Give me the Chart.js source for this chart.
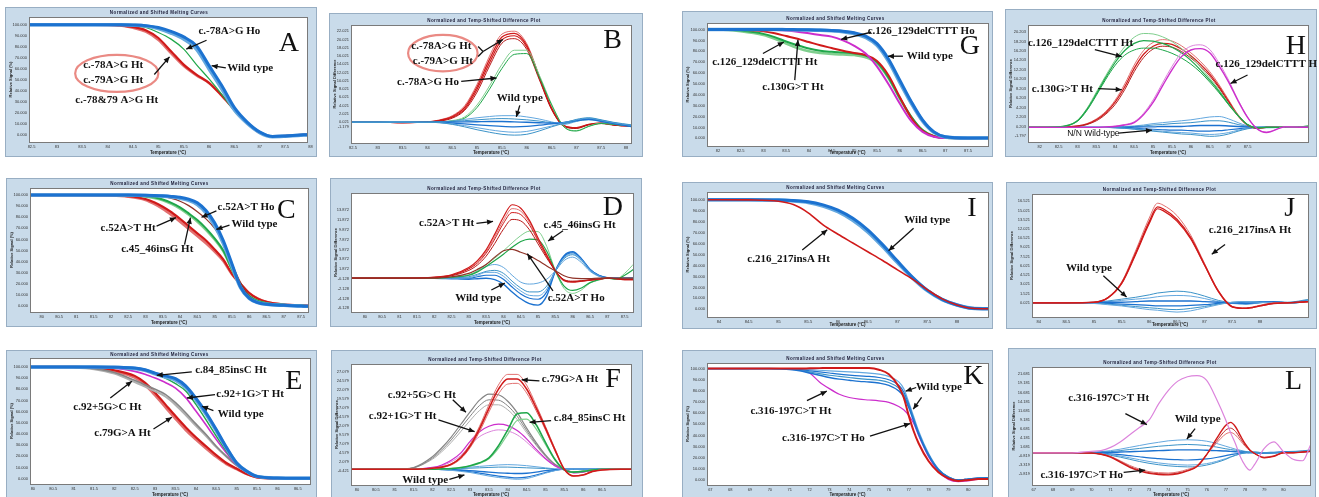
<!DOCTYPE html>
<html>
<head>
<meta charset="utf-8">
<script src="https://cdn.jsdelivr.net/npm/chart.js@4.4.1/dist/chart.umd.min.js"></script>
<style>
  body { margin: 0; background: #fff; width: 1319px; height: 497px; overflow: hidden; position: relative; }
</style>
</head>
<body>
<script>
// ---- axis ticks ----
const meltTicks = [0, 10, 20, 30, 40, 50, 60, 70, 80, 90, 100];
const ticksB = [22.021, 20.021, 18.021, 16.021, 14.021, 12.021, 10.021, 8.021, 6.021, 4.021, 2.021, 0.021, -1.179];
const ticksD = [13.872, 11.872, 9.872, 7.872, 5.872, 3.872, 1.872, -0.128, -2.128, -4.128, -6.128];
const ticksF = [27.079, 24.579, 22.079, 19.579, 17.079, 14.579, 12.079, 9.579, 7.079, 4.579, 2.079, -0.421];
const ticksH = [20.203, 18.203, 16.203, 14.203, 12.203, 10.203, 8.203, 6.203, 4.203, 2.203, 0.203, -1.797];
const ticksJ = [16.521, 15.021, 13.521, 12.021, 10.521, 9.021, 7.521, 6.021, 4.521, 3.021, 1.521, 0.021];
const ticksL = [21.681, 19.181, 16.681, 14.181, 11.681, 9.181, 6.681, 4.181, 1.681, -0.819, -3.319, -5.819];
const xTicksAB = [82.5, 83, 83.5, 84, 84.5, 85, 85.5, 86, 86.5, 87, 87.5, 88];
const xTicksGH = [82, 82.5, 83, 83.5, 84, 84.5, 85, 85.5, 86, 86.5, 87, 87.5];
const xTicksCD = [80, 80.5, 81, 81.5, 82, 82.5, 83, 83.5, 84, 84.5, 85, 85.5, 86, 86.5, 87, 87.5];
const xTicksIJ = [84, 84.5, 85, 85.5, 86, 86.5, 87, 87.5, 88];
const xTicksEF = [80, 80.5, 81, 81.5, 82, 82.5, 83, 83.5, 84, 84.5, 85, 85.5, 86, 86.5];
const xTicksKL = [67, 68, 69, 70, 71, 72, 73, 74, 75, 76, 77, 78, 79, 80];

// ---- A: melting curves ----
const tempA = [82.4, 83, 83.5, 84, 84.25, 84.5, 84.75, 85, 85.25, 85.5, 85.75, 86, 86.25, 86.5, 86.75, 87, 87.25, 87.5, 88.05];
const aWild  = [100,100,100,100,100,99.8,99.2,97.5,94,89,81,63,45,25,12,3,-1,-0.5,1];
const aWild2 = [100,100,100,100,100,99.6,98.8,96.5,92.5,87,78,60,42,23,11,2.5,-1.2,-0.8,0.8];
const aHo    = [100,100,100,100,99.8,99,97.5,93,87,78,64,51,37,22,11,2,-1,-0.3,1];
const aHt    = [100,100,100,99.8,99.3,98,95,88,76,64,55,47.5,36,23.5,11.5,2.5,-1,-0.5,1.2];
const aHt2   = [100,100,100,99.6,99,97,93.5,86,74,62.5,54,47,35.5,23,11,2,-1.1,-0.6,1];

// ---- B: difference plot ----
const tempB = [82.4, 83, 83.5, 84, 84.25, 84.5, 84.75, 85, 85.25, 85.5, 85.75, 86, 86.25, 86.5, 86.75, 87, 87.25, 87.5, 87.75, 88.1];
const bRed1 = [0,0,-0.1,0.1,0.5,1.4,3.6,8.6,15.2,20.6,21.5,18.6,11,3.4,-0.8,-1.3,-0.5,-0.2,-0.6,-0.9];
const bRed2 = [0,0,-0.1,0.1,0.4,1.2,3.2,8,14.4,19.9,20.9,18.2,10.8,3.3,-0.9,-1.4,-0.6,-0.2,-0.6,-0.9];
const bRed3 = [0,0,-0.1,0.1,0.3,1,2.9,7.3,13.6,19.1,20.2,17.6,10.4,3.1,-1,-1.5,-0.6,-0.3,-0.7,-1];
const bRed4 = [0,0,-0.1,0.1,0.6,1.6,4,9.2,16,21.3,22,19,11.3,3.5,-0.8,-1.3,-0.5,-0.2,-0.5,-0.8];
const bGrn1 = [0,0,0,0,0.1,0.4,1.3,4.2,8.8,14,17.4,17.4,11.5,4.4,-1,-2,-0.9,-0.2,-0.5,-0.9];
const bGrn2 = [0,0,0,0,0.1,0.3,1,3.6,8,13,16.4,16.6,11,4.2,-1.1,-2.1,-1,-0.3,-0.5,-0.9];
const bWt1 = [0,0,0,0,0.1,0.3,0.7,1.1,1.4,1.6,1.6,1.3,0.8,0.1,-0.5,0.2,0.8,0.5,-0.2,-0.8];
const bWt2 = [0,0,0,0,0.05,0.2,0.4,0.6,0.8,0.9,0.8,0.6,0.3,-0.1,-0.3,0.3,0.6,0.3,-0.3,-0.9];
const bWt3 = [0,0,0,0,0,0.05,0.1,0.15,0.2,0.2,0.1,0,-0.1,-0.2,-0.1,0.4,0.7,0.2,-0.3,-1];
const bWt4 = [0,0,0,0,-0.05,-0.2,-0.4,-0.6,-0.8,-1,-1.1,-1,-0.7,-0.4,0,0.5,0.9,0.4,-0.2,-0.8];
const bWt5 = [0,0,0,0,-0.1,-0.4,-0.8,-1.3,-1.8,-2.2,-2.4,-2.2,-1.6,-0.9,-0.1,0.6,1,0.5,-0.1,-0.7];
const bWt6 = [0,0,0,0,-0.1,-0.5,-1.1,-1.8,-2.4,-2.9,-3.1,-2.9,-2.1,-1.1,-0.2,0.7,1.1,0.6,0,-0.6];

// ---- G: melting curves ----
const tempG = [81.7, 82, 82.5, 83, 83.25, 83.5, 83.75, 84, 84.25, 84.5, 84.75, 85, 85.25, 85.5, 85.75, 86, 86.25, 86.5, 86.75, 87, 87.5, 88];
const gWild   = [100,100,100,100,100,100,99.9,99.8,99.6,99.2,98.5,97,94,87,73,53.5,34,17,6,1.5,0.4,0.4];
const gWild2  = [100,100,100,100,100,99.9,99.8,99.6,99.3,98.8,98,96.2,92.8,85.5,71,51.5,32.5,16,5.5,1.3,0.4,0.4];
const gHo     = [100,100,100,99.8,99.5,99,98,96.5,95,93.5,90,85,78,66,50,32,16,6,1.5,0.3,0.2,0.3];
const gHt130  = [100,100,99.7,98.3,96.5,94,91.5,88.5,85.5,83,80.5,78.5,76.5,71,58,38,19,7,2,0.5,0.2,0.3];
const gHtDel  = [100,100,99,96,93,89,85.5,82.5,80.5,79.5,78.8,78,76,70,56,37,20,7.6,2,0.5,0.2,0.3];
const gHtDel2 = [100,100,98.5,95,91.5,87,83,80,78.5,77.5,77,76.5,74.5,69,55.5,36.5,19.5,7.4,2,0.5,0.2,0.3];

// ---- H: difference plot ----
const tempH = [81.6, 82, 82.5, 83, 83.25, 83.5, 83.75, 84, 84.25, 84.5, 84.75, 85, 85.25, 85.5, 85.75, 86, 86.25, 86.5, 86.75, 87, 87.25, 87.5, 87.75, 88, 88.5, 89.2];
const hGrn1 = [0,0,0.1,1.5,4,7.5,11,14.3,17.1,19.1,19.9,19.8,19.2,18.2,16.7,15,12.8,10.4,7.9,5,2.6,0.6,-0.1,0,0,0.3];
const hGrn2 = [0,0,0.1,1.4,3.8,7.1,10.6,13.8,16.3,17.8,18.4,18.3,17.8,17,15.8,14.2,12.2,10,7.6,4.9,2.5,0.6,-0.1,0,0,0.3];
const hGrn3 = [0,0,0.1,1.3,3.6,6.8,10.2,13.2,15.3,16.4,16.8,16.8,16.4,15.7,14.7,13.4,11.7,9.6,7.3,4.8,2.5,0.6,-0.1,0,0,0.3];
const hRed1 = [0,0,0,0.3,0.8,1.8,3.4,5.8,9.2,13.2,16.3,18,18.6,18.3,17.3,15.8,14,11.8,9,5.8,2.7,0.6,-0.2,0,0,0.2];
const hRed2 = [0,0,0,0.3,0.7,1.6,3.1,5.4,8.6,12.5,15.5,17.2,17.8,17.6,16.6,15.2,13.4,11.3,8.6,5.5,2.5,0.5,-0.2,0,0,0.2];
const hRed3 = [0,0,0,0.2,0.6,1.4,2.8,4.9,8,11.8,14.8,16.6,17.2,17,16.1,14.7,13,10.9,8.3,5.3,2.4,0.5,-0.2,0,0,0.2];
const hMag1 = [0,0,0,0,0,0,0.1,0.3,0.6,1.2,3,5.8,9.4,12.9,15.8,17.2,17.5,16.5,13.6,10,5.8,2.2,-0.3,-1,0.1,0];
const hMag2 = [0,0,0,0,0,0,0.1,0.2,0.5,1,2.7,5.3,8.8,12.2,15,16.4,16.7,15.8,13,9.6,5.6,2.1,-0.3,-1.1,0.1,0];
const hWt1 = [0,0,0,0,0,0,0,0.1,0.2,0.3,0.5,0.8,1,1.2,1.4,1.6,1.9,2.2,2.3,1.8,1,0.3,0,-0.1,0,0.1];
const hWt2 = [0,0,0,0,0,0,0,0,0.1,0.2,0.3,0.5,0.6,0.8,0.9,1,1.2,1.4,1.4,1.1,0.6,0.2,0,0,0,0.1];
const hWt3 = [0,0,0,0,0,0,0,0,0,0.05,0.1,0.1,0.2,0.2,0.2,0.3,0.4,0.4,0.4,0.3,0.2,0.1,0,0,0,0];
const hWt4 = [0,0,0,0,0,0,0,0,-0.1,-0.2,-0.3,-0.4,-0.5,-0.6,-0.6,-0.7,-0.8,-0.8,-0.7,-0.5,-0.3,-0.1,0,0,0,0];
const hWt5 = [0,0,0,0,0,0,0,-0.1,-0.2,-0.3,-0.5,-0.7,-0.8,-1,-1.1,-1.2,-1.4,-1.5,-1.4,-1.1,-0.6,-0.2,0,0,0,0];
const hWt6 = [0,0,0,0,0,0,0,-0.1,-0.2,-0.4,-0.6,-0.8,-1,-1.2,-1.4,-1.5,-1.7,-1.9,-1.8,-1.4,-0.8,-0.3,0,0.1,0,0];

// ---- C: melting curves ----
const tempC = [79.6, 80, 81, 82, 82.5, 83, 83.25, 83.5, 83.75, 84, 84.25, 84.5, 84.75, 85, 85.25, 85.5, 85.75, 86, 86.25, 86.5, 87, 87.5, 87.8];
const cWild  = [100,100,100,100,100,99.8,99.6,99.3,98.8,98,96.3,93,86,75,59,38,17,7,3,1.5,0.5,0,-0.5];
const cWild2 = [100,100,100,100,100,99.7,99.4,99,98.3,97.2,95.2,91.5,84,72.5,56.5,36,16.5,6.8,3,1.5,0.5,0,-0.5];
const cHo    = [100,100,100,100,100,99.6,99.2,98.5,97,94.5,90.5,85,78.5,70,58,38,21,8.5,3.5,1.5,0.6,0.1,-0.3];
const cIns   = [100,100,100,100,99.8,99,98,96,93,89,83.5,77.5,70,61,50,33,18,9,4.5,2.5,1,0.3,-1];
const cIns2  = [100,100,100,100,99.6,98.5,97.2,95,91.8,87.5,82,75.8,68.3,59.5,48.8,32.5,18,9,4.5,2.5,1,0.3,-1];
const cHt    = [100,100,100,99.8,99,96.5,93.5,89.5,84.5,78.5,72,65.5,59,51,42,29,20,11.5,6.5,3.6,1.2,0.5,0];
const cHt2   = [100,100,100,99.6,98.5,95.5,92,87.5,82,76,69.5,63,56.5,49,40.5,28.5,19.5,11.5,6.5,3.6,1.2,0.5,0];

// ---- D: difference plot ----
const tempD = [79.5, 80, 81, 82, 82.5, 83, 83.25, 83.5, 83.75, 84, 84.25, 84.5, 84.75, 85, 85.25, 85.5, 85.75, 86, 86.25, 86.5, 86.75, 87, 87.25, 87.5, 87.8];
const dRed1 = [0,0,0,0.2,0.7,2.2,3.6,5.8,9,12.5,15,14.3,11.8,8.2,4.8,1.5,-0.5,-0.8,-0.6,-0.4,-0.2,0,-0.1,-0.3,-0.3];
const dRed2 = [0,0,0,0.2,0.6,1.9,3.1,5.1,8,11.2,13.4,13,10.9,7.6,4.4,1.5,-0.4,-0.7,-0.6,-0.4,-0.2,0,-0.1,-0.3,-0.3];
const dRed3 = [0,0,0,0.1,0.5,1.6,2.7,4.5,7.1,10,12,11.7,9.9,7,4.1,1.5,-0.3,-0.6,-0.5,-0.3,-0.1,0,-0.1,-0.2,-0.2];
const dRed4 = [0,0,0,0.2,0.6,2,3.3,5.4,8.5,11.8,14.2,13.7,11.4,7.9,4.6,1.5,-0.4,-0.7,-0.6,-0.4,-0.2,0,-0.1,-0.3,-0.3];
const dGrn1 = [0,0,0,0,0.2,0.7,1.5,2.8,4.1,5.6,7.2,8.7,9.6,9.5,6.5,1.5,-2.1,-3.1,-2.4,-1,-0.4,0,-0.2,1,3.2];
const dGrn2 = [0,0,0,0,0.2,0.6,1.3,2.4,3.6,4.9,6.3,7.5,8,7.8,5.5,1.5,-1.6,-2.5,-2,-0.9,-0.3,0,-0.2,0.6,2];
const dHo   = [0,0,0,0,0.3,1,1.8,2.8,4.3,5.6,5.9,5.3,4.6,3.6,2.5,1.5,0.5,0,-0.1,-0.1,0,0,0,0,0];
const dWt1 = [0,0,0,0,0.2,0.6,1.5,2.4,2.8,2.2,0.6,-0.8,-1.2,-1,-0.2,1.5,3.6,4.3,3.2,1.4,0.4,0,0,0,0];
const dWt2 = [0,0,0,0,0.1,0.3,0.8,1.4,1.6,1,-0.6,-2,-2.8,-2.8,-1.6,1.5,4,4.8,3.6,1.6,0.5,0,0,0,0];
const dWt3 = [0,0,0,0,0,0,0.3,0.6,0.6,-0.2,-1.8,-3.2,-4.1,-4.3,-2.8,1.5,4.4,5.2,3.9,1.8,0.6,0.1,0,0,0];
const dWt4 = [0,0,0,0,-0.1,-0.2,-0.1,0,-0.3,-1.2,-2.8,-4.2,-5.2,-5.5,-3.6,1.5,4.6,5.4,4,1.8,0.6,0.1,0,0,0];
const dWt5 = [0,0,0,0,0,0.1,0.6,1.2,1.2,0.4,-1.2,-2.6,-3.5,-3.6,-2.2,1.5,4.2,5,3.8,1.7,0.5,0,0,0,0];

// ---- I: melting curves ----
const tempI = [83.7, 84, 84.5, 85, 85.25, 85.5, 85.75, 86, 86.25, 86.5, 86.75, 87, 87.25, 87.5, 87.75, 88, 88.25, 88.6];
const iWild  = [100,100,100,99.8,99.2,98.2,95.3,90.5,83,72.5,59,44,29.5,17.5,9,4,1,0.5];
const iWild2 = [100,100,100,99.6,98.8,97.5,94.2,89,81.2,70.6,57.2,42.6,28.6,17,8.8,3.9,1,0.5];
const iHt    = [100,100,99.8,98.5,95.5,88,77,68.5,60.5,52.5,44.5,36,27.5,18,9.5,4,1,0.5];

// ---- J: difference plot ----
const tempJ = [83.8, 84, 84.5, 85, 85.25, 85.5, 85.75, 86, 86.15, 86.25, 86.5, 86.75, 87, 87.25, 87.5, 87.75, 88, 88.25, 88.5, 88.9];
const jRed1 = [0,0,0,0.1,0.8,3.2,8,13.2,15.6,15.3,13.6,10.6,6.2,1.9,-0.6,-0.9,-0.5,-0.1,0,0.2];
const jRed2 = [0,0,0,0.1,0.8,3.1,7.8,12.9,15.3,15,13.3,10.4,6.1,1.8,-0.7,-0.9,-0.5,-0.1,0,0.2];
const jRed3 = [0,0,0,0.1,0.9,3.4,8.4,13.8,16.2,15.9,14.2,11,6.4,2,-0.6,-0.8,-0.4,0,0,0.2];
const jWt1 = [0,0,0,0.1,0.3,0.6,0.9,1.3,1.6,1.7,1.9,1.7,1.1,0.4,0,-0.2,0,0.2,0.1,0.6];
const jWt2 = [0,0,0,0.05,0.2,0.4,0.6,0.8,1,1.1,1.2,1.1,0.7,0.2,-0.1,-0.2,0,0.2,0,0.5];
const jWt3 = [0,0,0,0,0.1,0.1,0.2,0.3,0.3,0.3,0.3,0.3,0.2,0.1,0,-0.1,0.1,0.2,0,0.4];
const jWt4 = [0,0,0,0,-0.1,-0.2,-0.3,-0.4,-0.5,-0.5,-0.5,-0.4,-0.3,-0.1,0,0.1,0.2,0,-0.1,0.3];
const jWt5 = [0,0,0,-0.05,-0.2,-0.4,-0.6,-0.8,-0.9,-1,-1.1,-0.9,-0.6,-0.2,0.1,0.2,0.1,-0.1,-0.1,0.3];
const jWt6 = [0,0,0,-0.1,-0.3,-0.5,-0.8,-1.1,-1.2,-1.3,-1.5,-1.3,-0.8,-0.3,0.1,0.2,0.1,0,-0.1,0.4];

// ---- E: melting curves ----
const tempE = [79.9, 80.5, 81, 81.5, 82, 82.5, 82.75, 83, 83.25, 83.5, 83.75, 84, 84.25, 84.5, 84.75, 85, 85.25, 85.5, 86, 86.5, 86.9];
const eWild  = [100,100,100,100,99.8,99,97.5,94.5,92,89.5,83,72,59,44,28,14,6.6,2,0.5,0.3,0.3];
const eWild2 = [100,100,100,100,99.7,98.7,97,93.8,91,88.2,81.5,70.5,57.5,42.8,27.3,13.8,6.5,2,0.5,0.3,0.3];
const eIns   = [100,100,100,99.8,99.3,98,96.5,94,90,85,78.5,66.5,52.5,38,24.5,12.5,6,2,0.5,0.3,0.3];
const eG1    = [100,100,100,99.6,98.8,96,93.5,90,86,81,72.5,60.5,48,35,23,12,6,2,0.5,0.3,0.3];
const eG5    = [100,100,99.8,98.5,95,88,84,80,75.5,68,59,49,39.5,29,20,12,6,2,0.5,0.3,0.3];
const eG5b   = [100,100,99.6,98,94,86.5,82.3,78.2,73.5,66,57,47.3,38.2,28.2,19.5,11.8,6,2,0.5,0.3,0.3];
const eRed   = [100,100,100,99.4,97,92,86,77,66.5,56,46,37,29,21,14,9,4.2,1.2,0.3,0.3,0.3];
const eRed2  = [100,100,100,99,96,90.5,84,74.5,64,53.5,43.5,35,27,19.5,13,8.5,4,1.2,0.3,0.3,0.3];

// ---- F: difference plot ----
const tempF = [79.8, 80.5, 81, 81.5, 82, 82.25, 82.5, 82.75, 83, 83.25, 83.5, 83.75, 84, 84.25, 84.5, 84.75, 85, 85.25, 85.5, 85.75, 86, 86.25, 86.5, 87, 87.3];
const fRed1  = [0,0,0,0,0.3,0.7,1.5,3.5,7,12,18,23.5,26.5,26.5,23.5,18,12,5.8,0,-1.9,-1.6,-0.6,-0.2,0,0];
const fRed2  = [0,0,0,0,0.3,0.6,1.4,3.2,6.5,11.3,17,22.3,25.2,25.2,22.4,17.2,11.5,5.5,0,-1.9,-1.6,-0.6,-0.2,0,0];
const fRed3  = [0,0,0,0,0.2,0.5,1.2,2.9,6,10.5,16,21,23.8,24,21.3,16.4,11,5.2,0,-1.8,-1.5,-0.6,-0.2,0,0];
const fGray1 = [0,0,0,0.5,3.5,6,9,12.5,16,19.3,21,20.8,19,15.8,11.5,7.5,4,1.4,0,-0.8,-0.6,-0.2,0,0,0];
const fGray2 = [0,0,0,0.4,3.1,5.4,8.2,11.5,14.8,17.8,19.4,19.3,17.7,14.8,10.8,7,3.8,1.3,0,-0.8,-0.6,-0.2,0,0,0];
const fGray3 = [0,0,0,0.4,2.8,4.9,7.5,10.5,13.6,16.4,18,18,16.6,13.9,10.2,6.7,3.6,1.2,0,-0.7,-0.5,-0.2,0,0,0];
const fMag1  = [0,0,0,0,0.5,1.2,2.5,4.5,7.8,10.5,12,12.6,12.2,10.8,8.5,5.6,3,1,-0.2,-1,-0.8,-0.3,0,0,0];
const fMag2  = [0,0,0,0,0.4,1,2.1,3.8,6.7,9.1,10.4,11,10.7,9.6,7.6,5.1,2.8,0.9,-0.2,-1,-0.8,-0.3,0,0,0];
const fGrn1  = [0,0,0,0,0,0.1,0.2,0.5,1,1.8,3.2,6.5,11,15.5,15.8,12.5,7.5,2.8,-0.2,-0.8,-0.6,-0.2,0,0,0];
const fGrn2  = [0,0,0,0,0,0.1,0.2,0.4,0.9,1.6,2.9,5.8,9.8,13.6,14,11.3,6.9,2.6,-0.2,-0.8,-0.6,-0.2,0,0,0];
const fWt1 = [0,0,0,0,0,0.1,0.2,0.4,0.6,0.8,1,1.2,1.3,1.2,1,0.7,0.4,0.1,0,0,0,0,0,0,0];
const fWt2 = [0,0,0,0,0,0,0.1,0.2,0.3,0.4,0.5,0.6,0.6,0.5,0.4,0.3,0.2,0,0,0,0,0,0,0,0];
const fWt3 = [0,0,0,0,0,0,-0.1,-0.2,-0.4,-0.6,-0.8,-1,-1.1,-1.2,-1.1,-0.8,-0.4,-0.1,0,0,0,0,0,0,0];
const fWt4 = [0,0,0,0,0,-0.1,-0.2,-0.4,-0.7,-1.1,-1.5,-1.9,-2.2,-2.4,-2.2,-1.6,-0.9,-0.3,0,0,0,0,0,0,0];
const fWt5 = [0,0,0,0,0,-0.1,-0.3,-0.6,-0.9,-1.4,-1.9,-2.3,-2.6,-2.8,-2.6,-1.9,-1.1,-0.4,0,0,0,0,0,0,0];

// ---- K: melting curves ----
const tempK = [66.7, 67, 68, 69, 70, 71, 71.5, 72, 72.5, 73, 73.5, 74, 74.5, 75, 75.5, 76, 76.5, 76.75, 77, 77.25, 77.5, 78, 78.5, 79, 79.5, 80, 80.5, 81.1];
const kHt  = [100,100,100,100,100,99.8,99.5,96,88,82,77,74,72.5,71.8,71,69.7,66,63,58,51,40,21,8,0.5,-1.5,-0.8,0.5,0.5];
const kHo  = [100,100,100,100,100,100,100,100.2,100.4,100.6,100.6,100.6,100.6,100.5,99,95,84,74,58,44,33,17,7,1.5,-0.8,0,0.8,1];
const kWt1 = [100,100,100,100,100,99.8,99.5,99,98.5,98,97.5,97,96.5,96,95,93,88,82,70,57,44,24,10,2.8,0,0.8,1.8,2];
const kWt2 = [100,100,100,100,100,99.6,99,98,97,96,95,94.2,93.5,93,92,90,85,79,68,55,42.5,23,9.5,2.6,0,0.8,1.8,2];
const kWt3 = [100,100,100,100,100,99.4,98.5,97,95.5,94,93,92,91,90.3,89.5,87.5,82.5,77,66.5,54,41.5,22.5,9.2,2.5,0,0.8,1.8,2];
const kWt4 = [100,100,100,100,100,99.2,98,96,94,92,90.5,89.5,88.5,88,87,85,80,75,65,53,41,22,9,2.4,0,0.8,1.7,1.9];

// ---- L: difference plot ----
const tempL = [66.8, 67, 68, 69, 70, 70.5, 71, 71.5, 72, 72.5, 73, 73.5, 74, 74.5, 75, 75.5, 76, 76.5, 77, 77.25, 77.5, 77.75, 78, 78.25, 78.5, 79, 79.5, 80, 80.5, 81, 81.4];
const lHt  = [0,0,0,0,0.4,0.6,1.5,3,5,7,9,13.5,17.2,19.8,21,21.3,20,15,9,5.5,2.5,-1,-3.5,-4.8,-3.2,1.2,3,0.3,-1.8,-2.2,2.1];
const lHo1 = [0,0,0,0,-0.1,-0.4,-1.2,-2.6,-4,-5,-5.7,-6,-6.1,-5.8,-5,-3.8,-0.5,3.8,7.6,8.4,7.2,4.8,2.5,0.8,-0.2,-1.4,-1,0,0,0.2,0.4];
const lHo2 = [0,0,0,0,-0.1,-0.4,-1.1,-2.4,-3.8,-4.8,-5.5,-5.8,-5.9,-5.6,-4.9,-3.7,-0.5,3.1,6.3,6.8,5.9,4,2.1,0.7,-0.2,-1.3,-0.9,0,0,0.2,0.4];
const lHo3 = [0,0,0,0,-0.1,-0.3,-1,-2.2,-3.5,-4.5,-5.2,-5.5,-5.6,-5.3,-4.6,-3.5,-0.5,2.6,5.2,5.6,4.9,3.4,1.8,0.6,-0.2,-1.2,-0.8,0,0,0.2,0.3];
const lWt1 = [0,0,0,0,0.1,0.3,0.6,1,1.5,2,2.5,2.9,3.3,3.5,3.6,3.5,3.2,2.6,1.8,1.4,1,0.7,0.4,0.2,0,-0.2,0,0.3,0.4,0.5,0.6];
const lWt2 = [0,0,0,0,0.1,0.2,0.3,0.6,0.9,1.2,1.5,1.8,2,2.2,2.3,2.2,2,1.6,1.1,0.9,0.7,0.5,0.3,0.1,0,-0.1,0,0.2,0.3,0.4,0.5];
const lWt3 = [0,0,0,0,0,0.1,0.1,0.2,0.3,0.4,0.5,0.6,0.7,0.8,0.8,0.8,0.7,0.6,0.5,0.4,0.3,0.2,0.1,0,0,0,0.1,0.2,0.2,0.3,0.4];
const lWt4 = [0,0,0,0,0,-0.1,-0.3,-0.5,-0.8,-1.1,-1.4,-1.6,-1.8,-1.9,-2,-1.9,-1.7,-1.3,-0.8,-0.5,-0.3,-0.1,0,0.1,0.1,0,0,0.1,0.2,0.3,0.5];
const lWt5 = [0,0,0,0,-0.1,-0.2,-0.5,-0.9,-1.4,-1.9,-2.4,-2.8,-3.1,-3.3,-3.4,-3.3,-3,-2.4,-1.6,-1.1,-0.7,-0.3,0,0.2,0.2,0,0,0.1,0.2,0.4,0.6];
const lWt6 = [0,0,0,0,-0.1,-0.3,-0.7,-1.2,-1.8,-2.4,-2.9,-3.3,-3.6,-3.8,-3.9,-3.8,-3.4,-2.7,-1.8,-1.2,-0.7,-0.3,0,0.2,0.2,0,0,0.1,0.3,0.5,0.8];

// ---- styles ----
const BLUE = '#1c72d0', BLUE2 = '#64a8df', TEAL = '#3b93c8';
const RED = '#d01a1a', RED2 = '#e27070', BROWN = '#8f3328';
const GREEN = '#1fa74a', GREEN2 = '#80cf8e';
const MAG = '#cc2ecc', MAG2 = '#dc84dc';
const GRAY = '#858585', GRAY2 = '#b0b0b0';
const MELT = 'Normalized and Shifted Melting Curves';
const DIFF = 'Normalized and Temp-Shifted Difference Plot';
const MELT_Y = 'Relative Signal (%)';
const DIFF_Y = 'Relative Signal Difference';

const ln = (values, color, width) => ({ values, color, width });
const tx = (x, y, text, font) => ({ kind: 'text', x, y, text, font });
const ar = (x1, y1, x2, y2) => ({ kind: 'arrow', x1, y1, x2, y2 });
const sg = (x1, y1, x2, y2) => ({ kind: 'seg', x1, y1, x2, y2 });
const el = (x, y, rx, ry) => ({ kind: 'ellipse', x, y, rx, ry });
const big = (x, y, text) => ({ kind: 'big', x, y, text });

const panels = [
  { frame: [5, 7, 312, 150], plot: [24, 10, 302, 135], title: MELT, yTitle: MELT_Y,
    temps: tempA, xMin: 82.45, xMax: 87.93, yMin: -6, yMax: 107, xTicks: xTicksAB, yTicks: meltTicks,
    series: [ln(aHt2, RED2, 2), ln(aHt, RED, 2.2), ln(aHo, GREEN, 1.2), ln(aWild2, BLUE2, 3.5), ln(aWild, BLUE, 3)],
    notes: [el(84.18, 56, 0.82, 16.7), tx(84.11, 63.6, 'c.-78A>G Ht'), tx(84.11, 50, 'c.-79A>G Ht'),
      ar(84.92, 55, 85.22, 71), tx(84.18, 32, 'c.-78&79 A>G Ht'),
      tx(86.4, 94, 'c.-78A>G Ho'), ar(85.95, 86, 85.55, 78),
      tx(86.81, 60.6, 'Wild type'), ar(86.33, 61, 86.05, 63), big(87.57, 83, 'A')] },
  { frame: [329, 13, 314, 144], plot: [22, 12, 302, 130], title: DIFF, yTitle: DIFF_Y,
    temps: tempB, xMin: 82.46, xMax: 88.1, yMin: -5, yMax: 23.5, xTicks: xTicksAB, yTicks: ticksB,
    series: [ln(bRed4, RED2, 1), ln(bRed1, RED, 1.2), ln(bRed2, RED, 1.2), ln(bRed3, '#b81818', 1),
      ln(bGrn1, GREEN2, 1), ln(bGrn2, GREEN, 1),
      ln(bWt1, BLUE2, 1), ln(bWt2, TEAL, 1), ln(bWt3, BLUE, 1.4), ln(bWt4, BLUE, 1.2), ln(bWt5, BLUE2, 1), ln(bWt6, TEAL, 1)],
    notes: [el(84.31, 16.7, 0.7, 4.4), tx(84.28, 18.5, 'c.-78A>G Ht'), tx(84.31, 14.7, 'c.-79A>G Ht'),
      sg(85.02, 18.3, 85.12, 17.1), sg(85.02, 15.9, 85.12, 17.1), ar(85.12, 17.1, 85.52, 20),
      tx(84.01, 9.7, 'c.-78A>G Ho'), ar(84.68, 9.9, 85.39, 10.7),
      tx(85.86, 5.8, 'Wild type'), ar(85.86, 4.1, 85.79, 1.3), big(87.73, 19.8, 'B')] },
  { frame: [682, 11, 311, 146], plot: [25, 12, 306, 135], title: MELT, yTitle: MELT_Y,
    temps: tempG, xMin: 81.76, xMax: 87.94, yMin: -7, yMax: 106, xTicks: xTicksGH, yTicks: meltTicks,
    series: [ln(gHtDel2, GREEN2, 2.5), ln(gHtDel, GREEN, 2), ln(gHt130, RED, 2), ln(gHo, MAG, 2),
      ln(gWild2, BLUE2, 3.5), ln(gWild, BLUE, 3)],
    notes: [tx(86.47, 98.5, 'c.126_129delCTTT Ho'), ar(85.37, 97.5, 84.71, 91),
      tx(83.03, 69.7, 'c.126_129delCTTT Ht'), ar(82.99, 78, 83.45, 88.5),
      tx(83.65, 46.8, 'c.130G>T Ht'), ar(83.69, 53.5, 83.76, 90.5),
      tx(86.66, 75.5, 'Wild type'), ar(86.07, 75.5, 85.74, 75.5), big(87.54, 84, 'G')] },
  { frame: [1005, 9, 312, 148], plot: [23, 16, 303, 133], title: DIFF, yTitle: DIFF_Y,
    temps: tempH, xMin: 81.69, xMax: 89.1, yMin: -3.1, yMax: 21.7, xTicks: xTicksGH, yTicks: ticksH,
    series: [ln(hWt1, BLUE2, 1), ln(hWt2, TEAL, 1), ln(hWt3, BLUE, 1.4), ln(hWt4, BLUE, 1.2), ln(hWt5, BLUE2, 1), ln(hWt6, TEAL, 1),
      ln(hRed1, RED2, 1), ln(hRed2, RED, 1.2), ln(hRed3, '#b82020', 1),
      ln(hGrn1, GREEN2, 1), ln(hGrn2, GREEN, 1.2), ln(hGrn3, GREEN, 1),
      ln(hMag1, MAG2, 1), ln(hMag2, MAG, 1.4)],
    notes: [tx(83.08, 17.9, 'c.126_129delCTTT Ht'), ar(83.46, 16.5, 84.17, 15),
      tx(82.6, 8.2, 'c.130G>T Ht'), ar(83.55, 8.2, 84.17, 8),
      tx(88.07, 13.5, 'c.126_129delCTTT Ho'), ar(87.5, 11.1, 87.05, 9.3),
      tx(83.42, -1.35, 'N/N Wild-type', '8.5px "Liberation Sans", Arial, sans-serif'), ar(84.08, -1.2, 84.97, -0.6),
      big(88.78, 17.1, 'H')] },
  { frame: [6, 178, 311, 149], plot: [24, 10, 302, 134], title: MELT, yTitle: MELT_Y,
    temps: tempC, xMin: 79.66, xMax: 87.7, yMin: -5.5, yMax: 106.4, xTicks: xTicksCD, yTicks: meltTicks,
    series: [ln(cHt2, RED2, 2.5), ln(cHt, RED, 2.2), ln(cIns2, GREEN2, 2), ln(cIns, GREEN, 2), ln(cHo, BROWN, 1.2),
      ln(cWild2, BLUE2, 3.5), ln(cWild, BLUE, 3)],
    notes: [tx(85.91, 88.8, 'c.52A>T Ho'), ar(85.05, 85.7, 84.62, 80),
      tx(86.15, 74.2, 'Wild type'), ar(85.43, 73, 85.05, 69),
      tx(82.5, 70, 'c.52A>T Ht'), ar(83.32, 72, 83.88, 79.6),
      tx(83.34, 50.8, 'c.45_46insG Ht'), ar(84.13, 55.3, 84.3, 79.6), big(87.07, 85.7, 'C')] },
  { frame: [330, 178, 312, 149], plot: [21, 15, 303, 134], title: DIFF, yTitle: DIFF_Y,
    temps: tempD, xMin: 79.6, xMax: 87.74, yMin: -6.9, yMax: 17.4, xTicks: xTicksCD, yTicks: ticksD,
    series: [ln(dWt1, BLUE2, 1), ln(dWt2, TEAL, 1), ln(dWt3, BLUE, 1.2), ln(dWt4, BLUE, 1.4), ln(dWt5, BLUE2, 1),
      ln(dGrn1, GREEN2, 1), ln(dGrn2, GREEN, 1.2),
      ln(dRed4, RED2, 1), ln(dRed1, RED, 1.2), ln(dRed2, RED, 1), ln(dRed3, '#b81818', 1),
      ln(dHo, BROWN, 1.2)],
    notes: [tx(82.36, 11.2, 'c.52A>T Ht'), ar(83.22, 11.2, 83.7, 11.6),
      tx(86.2, 10.9, 'c.45_46insG Ht'), ar(85.72, 9.7, 85.29, 7.6),
      tx(83.27, -4.1, 'Wild type'), ar(83.65, -2.4, 84.04, -1),
      tx(86.1, -4.1, 'c.52A>T Ho'), ar(85.43, -2.6, 84.69, 5), big(87.16, 14.5, 'D')] },
  { frame: [682, 182, 311, 147], plot: [25, 10, 306, 135], title: MELT, yTitle: MELT_Y,
    temps: tempI, xMin: 83.8, xMax: 88.52, yMin: -7, yMax: 107, xTicks: xTicksIJ, yTicks: meltTicks,
    series: [ln(iWild2, BLUE2, 3.5), ln(iWild, BLUE, 3), ln(iHt, RED, 1.6)],
    notes: [tx(87.5, 81.7, 'Wild type'), ar(87.27, 74, 86.85, 53.5),
      tx(85.17, 45.9, 'c.216_217insA Ht'), ar(85.4, 54, 85.82, 72.5), big(88.25, 92, 'I')] },
  { frame: [1006, 182, 311, 147], plot: [26, 12, 302, 135], title: DIFF, yTitle: DIFF_Y,
    temps: tempJ, xMin: 83.88, xMax: 88.87, yMin: -2.3, yMax: 17.7, xTicks: xTicksIJ, yTicks: ticksJ,
    series: [ln(jWt1, TEAL, 1), ln(jWt2, BLUE2, 1), ln(jWt3, BLUE, 1.4), ln(jWt4, BLUE, 1.2), ln(jWt5, TEAL, 1), ln(jWt6, BLUE2, 1),
      ln(jRed3, RED2, 1), ln(jRed1, RED, 1.4), ln(jRed2, RED, 1.2)],
    notes: [tx(87.82, 11.9, 'c.216_217insA Ht'), ar(87.37, 9.5, 87.13, 7.9),
      tx(84.91, 5.7, 'Wild type'), ar(85.17, 4.4, 85.59, 0.95), big(88.54, 15.4, 'J')] },
  { frame: [6, 350, 311, 149], plot: [24, 8, 304, 134], title: MELT, yTitle: MELT_Y,
    temps: tempE, xMin: 79.93, xMax: 86.8, yMin: -4.8, yMax: 108, xTicks: xTicksEF, yTicks: meltTicks,
    series: [ln(eRed2, RED2, 2.5), ln(eRed, RED, 2.2), ln(eG5b, GRAY2, 2), ln(eG5, GRAY, 1.6), ln(eG1, MAG, 1.6),
      ln(eIns, GREEN, 1.4), ln(eWild2, BLUE2, 3.5), ln(eWild, BLUE, 3)],
    notes: [tx(84.86, 96.7, 'c.84_85insC Ht'), ar(83.9, 95.5, 83.04, 92.5),
      tx(85.33, 75.8, 'c.92+1G>T Ht'), ar(84.47, 75.2, 83.78, 72.2),
      tx(85.1, 57.3, 'Wild type'), ar(84.43, 60.9, 84.15, 64.8),
      tx(81.83, 63.9, 'c.92+5G>C Ht'), ar(81.9, 72.2, 82.43, 87.2),
      tx(82.2, 40.3, 'c.79G>A Ht'), ar(82.96, 44.5, 83.41, 55), big(86.4, 87.2, 'E')] },
  { frame: [331, 350, 312, 149], plot: [20, 14, 300, 135], title: DIFF, yTitle: DIFF_Y,
    temps: tempF, xMin: 79.84, xMax: 87.27, yMin: -4.4, yMax: 29.4, xTicks: xTicksEF, yTicks: ticksF,
    series: [ln(fWt1, BLUE2, 1), ln(fWt2, TEAL, 1), ln(fWt3, BLUE, 1.4), ln(fWt4, BLUE, 1.2), ln(fWt5, BLUE2, 1),
      ln(fGray3, GRAY2, 1), ln(fGray1, GRAY, 1.2), ln(fGray2, GRAY, 1),
      ln(fMag2, MAG2, 1), ln(fMag1, MAG, 1.2),
      ln(fGrn2, GREEN2, 1.2), ln(fGrn1, GREEN, 1.6),
      ln(fRed3, RED2, 1), ln(fRed1, RED2, 1), ln(fRed2, RED, 1.6)],
    notes: [tx(81.72, 20.8, 'c.92+5G>C Ht'), ar(82.54, 19.4, 82.89, 15.9),
      tx(85.65, 25.3, 'c.79G>A Ht'), ar(84.84, 24.7, 84.37, 25),
      tx(81.21, 14.7, 'c.92+1G>T Ht'), ar(82.16, 13.8, 83.12, 10.5),
      tx(86.17, 14.3, 'c.84_85insC Ht'), ar(85.15, 13.6, 84.58, 13.1),
      tx(81.81, -3, 'Wild type'), ar(82.45, -2.8, 82.85, -1.6), big(86.79, 25, 'F')] },
  { frame: [682, 350, 311, 149], plot: [25, 13, 306, 135], title: MELT, yTitle: MELT_Y,
    temps: tempK, xMin: 66.83, xMax: 81, yMin: -4.5, yMax: 105, xTicks: xTicksKL, yTicks: meltTicks,
    series: [ln(kHt, MAG, 1.2), ln(kWt1, BLUE2, 1.2), ln(kWt2, BLUE, 1.2), ln(kWt3, TEAL, 1.2), ln(kWt4, BLUE, 1.4),
      ln(kHo, RED, 2)],
    notes: [tx(78.53, 83.3, 'Wild type'), ar(77.38, 83, 76.85, 79.7), ar(77.65, 74.2, 77.23, 63.6),
      tx(71.06, 61.5, 'c.316-197C>T Ht'), ar(71.87, 71.2, 72.87, 79.7),
      tx(72.7, 37.3, 'c.316-197C>T Ho'), ar(75.05, 39.4, 77.07, 50.6), big(80.26, 92.4, 'K')] },
  { frame: [1008, 348, 308, 151], plot: [24, 19, 302, 137], title: DIFF, yTitle: DIFF_Y,
    temps: tempL, xMin: 66.91, xMax: 81.38, yMin: -8.9, yMax: 23.7, xTicks: xTicksKL, yTicks: ticksL,
    series: [ln(lWt1, BLUE2, 1), ln(lWt2, TEAL, 1), ln(lWt3, BLUE, 1.4), ln(lWt4, BLUE, 1.2), ln(lWt5, BLUE2, 1), ln(lWt6, TEAL, 1),
      ln(lHo3, RED2, 1), ln(lHo2, '#c03030', 1), ln(lHo1, RED, 1.4),
      ln(lHt, MAG2, 1.2)],
    notes: [tx(70.9, 15, 'c.316-197C>T Ht'), ar(71.77, 10.8, 72.89, 7.8),
      tx(75.53, 9.3, 'Wild type'), ar(75.4, 6.7, 74.97, 3.8),
      tx(69.5, -6.1, 'c.316-197C>T Ho'), ar(71.68, -5.4, 72.8, -4.8), big(80.52, 19.6, 'L')] }
];

function drawNotes(chart, notes) {
  const { ctx, scales: { x, y } } = chart;
  const X = v => x.getPixelForValue(v), Y = v => y.getPixelForValue(v);
  ctx.save();
  ctx.fillStyle = '#111';
  ctx.strokeStyle = '#111';
  ctx.textAlign = 'center';
  ctx.textBaseline = 'middle';
  for (const n of notes) {
    if (n.kind === 'ellipse') {
      ctx.save();
      ctx.strokeStyle = '#ea8a84';
      ctx.lineWidth = 2.2;
      ctx.beginPath();
      ctx.ellipse(X(n.x), Y(n.y), Math.abs(X(n.x + n.rx) - X(n.x)), Math.abs(Y(n.y + n.ry) - Y(n.y)), 0, 0, Math.PI * 2);
      ctx.stroke();
      ctx.restore();
    } else if (n.kind === 'text') {
      ctx.font = n.font || 'bold 11px "Liberation Serif", "Times New Roman", serif';
      ctx.fillText(n.text, X(n.x), Y(n.y));
    } else if (n.kind === 'big') {
      ctx.font = '28px "Liberation Serif", "Times New Roman", serif';
      ctx.fillText(n.text, X(n.x), Y(n.y));
    } else {
      const x1 = X(n.x1), y1 = Y(n.y1), x2 = X(n.x2), y2 = Y(n.y2);
      ctx.lineWidth = 1.3;
      ctx.beginPath();
      ctx.moveTo(x1, y1);
      ctx.lineTo(x2, y2);
      ctx.stroke();
      if (n.kind === 'arrow') {
        const a = Math.atan2(y2 - y1, x2 - x1), L = 6, W = 2.7;
        ctx.beginPath();
        ctx.moveTo(x2, y2);
        ctx.lineTo(x2 - L * Math.cos(a) + W * Math.sin(a), y2 - L * Math.sin(a) - W * Math.cos(a));
        ctx.lineTo(x2 - L * Math.cos(a) - W * Math.sin(a), y2 - L * Math.sin(a) + W * Math.cos(a));
        ctx.closePath();
        ctx.fill();
      }
    }
  }
  ctx.restore();
}

function framePlugin(p) {
  return {
    id: 'frame',
    beforeDraw(chart) {
      const { ctx, chartArea: a, width, height } = chart;
      ctx.save();
      ctx.fillStyle = '#c9dbea';
      ctx.fillRect(0, 0, width, height);
      ctx.strokeStyle = '#98aec3';
      ctx.lineWidth = 1;
      ctx.strokeRect(0.5, 0.5, width - 1, height - 1);
      ctx.fillStyle = '#fff';
      ctx.fillRect(a.left, a.top, a.right - a.left, a.bottom - a.top);
      ctx.fillStyle = '#1d1d38';
      ctx.font = 'bold 4.5px Arial, "Liberation Sans", sans-serif';
      ctx.letterSpacing = '0.4px';
      ctx.textAlign = 'center';
      ctx.textBaseline = 'middle';
      ctx.fillText(p.title, width / 2 - 2, Math.max(4.5, a.top - 4.5));
      ctx.restore();
    },
    afterDatasetsDraw(chart) {
      const { ctx, chartArea: a } = chart;
      ctx.save();
      ctx.strokeStyle = '#7a7a7a';
      ctx.lineWidth = 1;
      ctx.strokeRect(Math.round(a.left) + 0.5, Math.round(a.top) + 0.5, Math.round(a.right - a.left), Math.round(a.bottom - a.top));
      ctx.restore();
      drawNotes(chart, p.notes);
    }
  };
}

Chart.defaults.font.family = 'Arial, "Liberation Sans", sans-serif';

function build(p) {
  const [fx, fy, fw, fh] = p.frame;
  const [pl, pt, pr, pb] = p.plot;
  const cv = document.createElement('canvas');
  cv.width = fw;
  cv.height = fh;
  cv.style.cssText = `position:absolute;left:${fx}px;top:${fy}px;width:${fw}px;height:${fh}px`;
  document.body.appendChild(cv);
  const n = p.series.length;
  new Chart(cv, {
    type: 'line',
    data: {
      datasets: p.series.map((s, i) => ({
        data: p.temps.map((t, k) => ({ x: t, y: s.values[k] })),
        borderColor: s.color,
        borderWidth: s.width,
        pointRadius: 0,
        fill: false,
        cubicInterpolationMode: 'monotone',
        order: n - i
      }))
    },
    options: {
      responsive: false,
      animation: false,
      devicePixelRatio: 1,
      events: [],
      layout: { padding: { left: 0, top: pt, right: fw - pr, bottom: 0 } },
      plugins: { legend: { display: false }, tooltip: { enabled: false } },
      scales: {
        x: {
          type: 'linear', min: p.xMin, max: p.xMax,
          grid: { display: false, drawTicks: false }, border: { display: false },
          ticks: { autoSkip: false, maxRotation: 0, padding: 2, color: '#333', font: { size: 4 }, callback: v => String(v) },
          afterBuildTicks: s => { s.ticks = p.xTicks.map(v => ({ value: v })); },
          afterFit: s => { s.height = fh - pb; s.paddingLeft = 0; s.paddingRight = 0; },
          title: { display: true, text: 'Temperature (°C)', color: '#222', font: { size: 4.5, weight: 'bold' }, padding: { top: 0, bottom: 2 } }
        },
        y: {
          type: 'linear', min: p.yMin, max: p.yMax,
          grid: { display: false, drawTicks: false }, border: { display: false },
          ticks: { autoSkip: false, padding: 2, color: '#333', font: { size: 4 }, callback: v => v.toFixed(3) },
          afterBuildTicks: s => { s.ticks = p.yTicks.map(v => ({ value: v })); },
          afterFit: s => { s.width = pl; s.paddingTop = 0; s.paddingBottom = 0; },
          title: { display: true, text: p.yTitle, color: '#222', font: { size: 4, weight: 'bold' }, padding: { top: 3.5, bottom: 0 } }
        }
      }
    },
    plugins: [framePlugin(p)]
  });
}

panels.forEach(build);
</script>
</body>
</html>
